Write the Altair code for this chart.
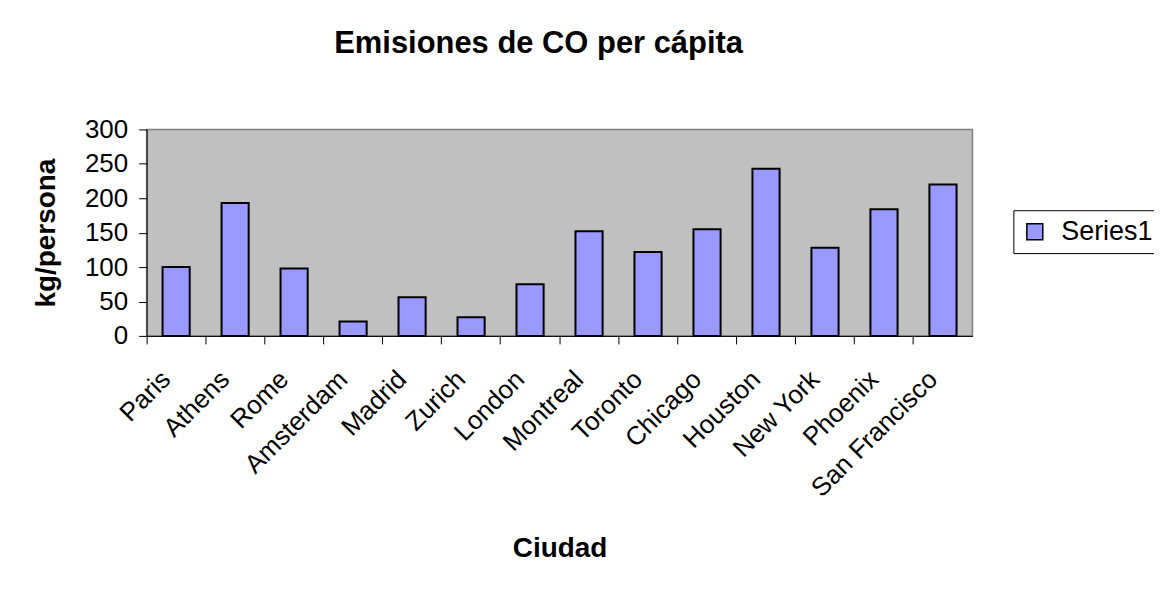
import altair as alt
import pandas as pd

cities = ["Paris", "Athens", "Rome", "Amsterdam", "Madrid", "Zurich", "London",
          "Montreal", "Toronto", "Chicago", "Houston", "New York", "Phoenix", "San Francisco"]
values = [100, 193, 98, 21, 56, 27, 75, 152, 122, 155, 243, 128, 184, 220]
series = ["Series1"] * len(cities)

df = pd.DataFrame({"Ciudad": cities, "kg": values, "serie": series})

FONT = "Liberation Sans, Arial, sans-serif"

bars = alt.Chart(df).mark_bar(
    width=alt.RelativeBandSize(0.46), stroke="black", strokeWidth=2
).encode(
    x=alt.X("Ciudad:N", sort=cities,
            scale=alt.Scale(paddingInner=0, paddingOuter=0),
            axis=alt.Axis(title="Ciudad", labelAngle=-45, labelAlign="right",
                          labelBaseline="top", bandPosition=0, labelOffset=-19,
                          labelPadding=22, tickSize=8, tickColor="black",
                          domainColor="black", labelFontSize=26, labelColor="black",
                          titleFontSize=28, titleFontWeight="bold", titleColor="black",
                          titleY=221, titleBaseline="alphabetic", titleX=414)),
    y=alt.Y("kg:Q", scale=alt.Scale(domain=[0, 300], nice=False),
            axis=alt.Axis(title="kg/persona", values=[0, 50, 100, 150, 200, 250, 300],
                          grid=False, tickSize=8, tickColor="black", domainColor="black",
                          labelFontSize=26, labelPadding=11, labelColor="black",
                          titleFontSize=28, titleFontWeight="bold", titleColor="black",
                          titleX=-100, titleY=103.5, titleBaseline="middle")),
    color=alt.Color("serie:N", scale=alt.Scale(range=["#9999FF"]),
                    legend=alt.Legend(title=None, orient="none", legendX=869, legendY=81,
                                      strokeColor="black", fillColor="white", padding=8,
                                      symbolType="square", symbolSize=256,
                                      symbolStrokeColor="black", symbolStrokeWidth=1.5,
                                      labelFontSize=27, labelColor="black",
                                      labelOffset=13)),
)

chart = bars.properties(
    width=828, height=207,
    title=alt.TitleParams("Emisiones de CO per cápita", fontSize=31, fontWeight="bold",
                          font=FONT, color="black", anchor="middle", dx=-21,
                          offset=33, baseline="alphabetic"),
    autosize=alt.AutoSizeParams(type="none"),
    padding={"left": 139, "top": 121, "right": 182, "bottom": 248},
).configure(
    font=FONT, background="white"
).configure_view(
    fill="#C0C0C0", stroke="#808080", strokeWidth=1.5
).configure_axis(
    labelFont=FONT, titleFont=FONT
).configure_legend(
    labelFont=FONT
)

chart.save("out.html", embed_options={"renderer": "svg", "actions": False})
